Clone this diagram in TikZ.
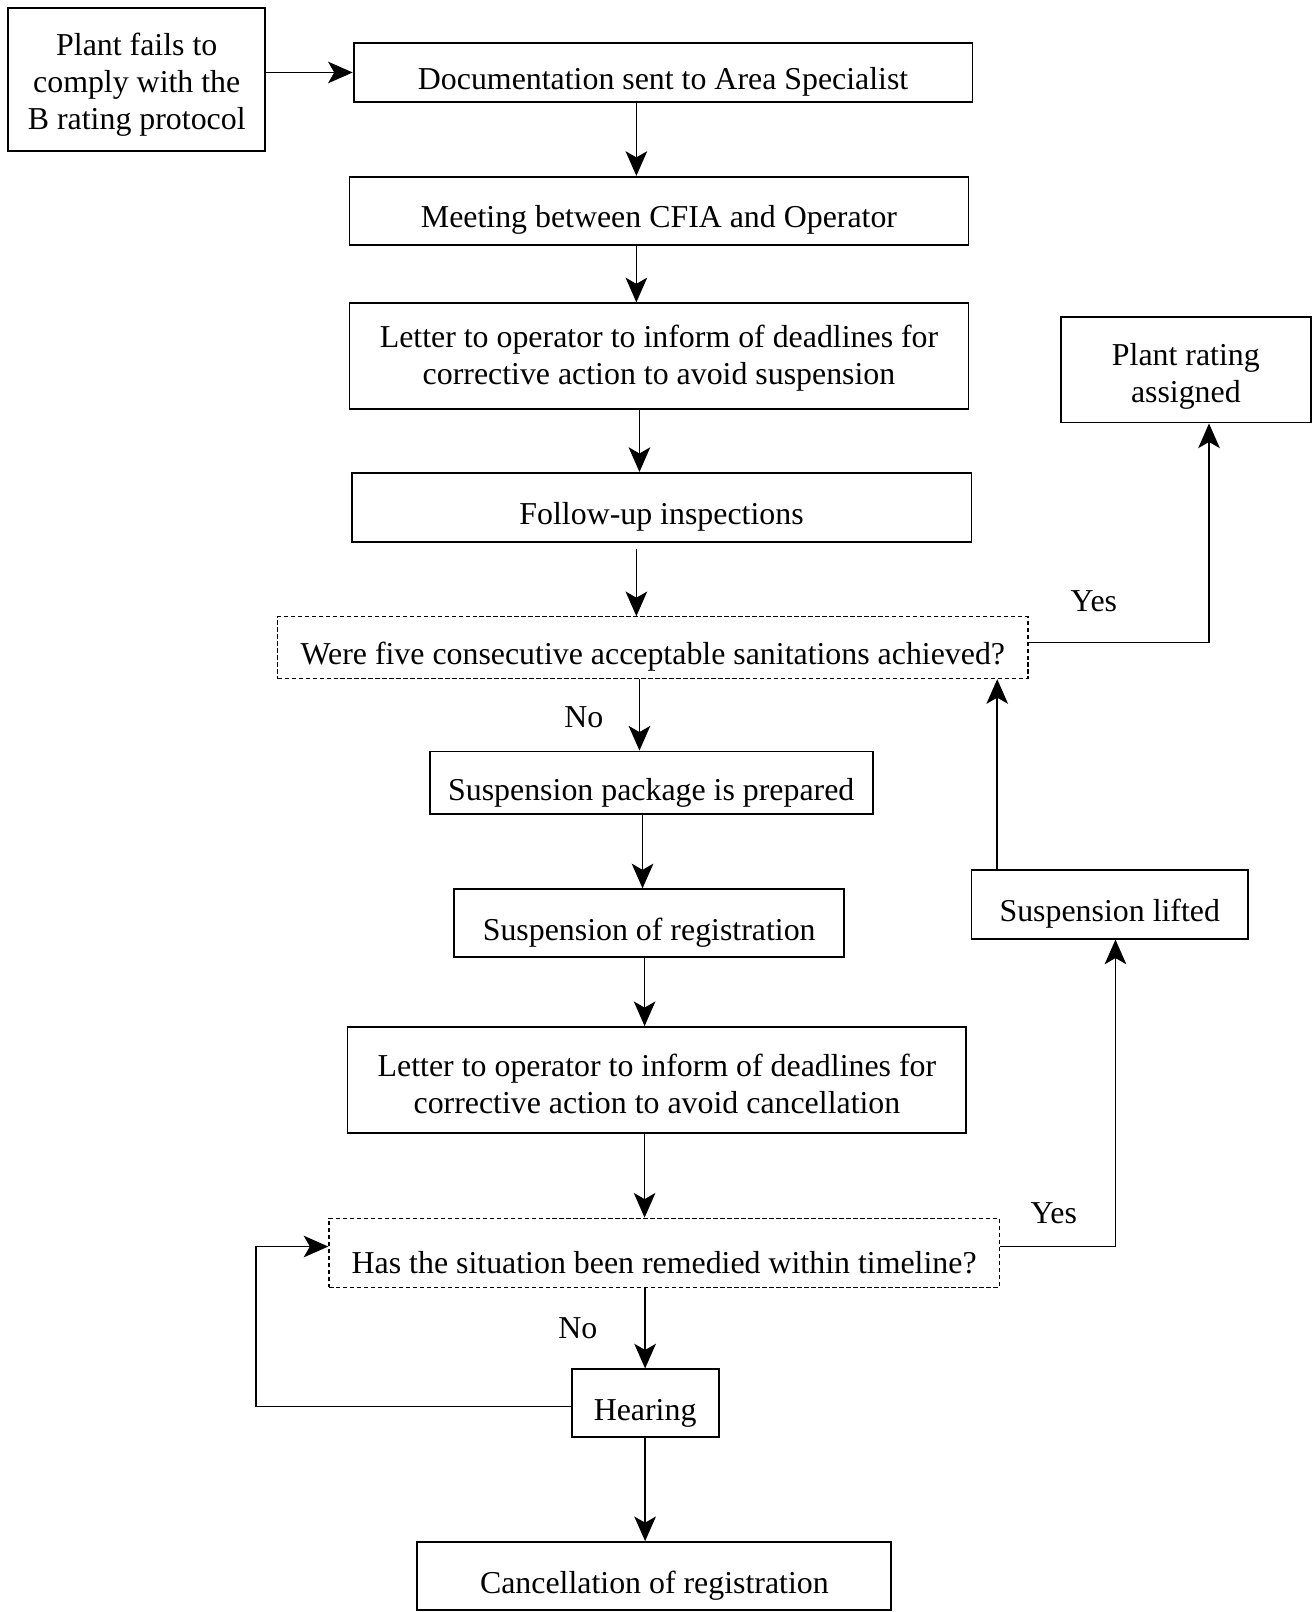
\documentclass[tikz,border=0pt]{standalone}
\usepackage{fontspec}
\setmainfont{Liberation Serif}
\usetikzlibrary{arrows.meta,calc}
\begin{document}
\begin{tikzpicture}[x=0.5pt,y=-0.5pt,
  box/.style={draw,line width=0.9pt,rectangle,align=center,inner sep=0pt,
    font=\fontsize{15.5}{18}\selectfont,
    execute at begin node={\rule{0pt}{20pt}}},
  mbox/.style={box,execute at begin node={}},
  qbox/.style={box,dash pattern=on 2.2pt off 1.2pt,line width=0.6pt},
  arr/.style={line width=0.8pt,-{Stealth[length=12pt,width=10.5pt,inset=3pt]}},
  lbl/.style={font=\fontsize{15.5}{18}\selectfont,inner sep=0pt}]
\useasboundingbox (0,0) rectangle (1276,1568);
\node[mbox,minimum width=125pt,minimum height=69.5pt] (b1) at (133,77.5) {\rule{0pt}{16pt}Plant fails to\\comply with the\\B rating protocol};
\node[box,minimum width=301pt,minimum height=28.5pt] (b2) at (645,70.5) {Documentation sent to Area Specialist};
\node[box,minimum width=301pt,minimum height=33pt] (b3) at (641,205) {Meeting between CFIA and Operator};
\node[mbox,minimum width=301pt,minimum height=51.5pt] (b4) at (641,346.5) {\rule{0pt}{13pt}Letter to operator to inform of deadlines for\\corrective action to avoid suspension};
\node[box,minimum width=301.5pt,minimum height=33.5pt] (b5) at (643.5,493.5) {Follow-up inspections};
\node[qbox,minimum width=365pt,minimum height=30pt] (q1) at (635,630) {Were five consecutive acceptable sanitations achieved?};
\node[mbox,minimum width=121.5pt,minimum height=51.5pt] (b7) at (1153.5,359.5) {\rule{0pt}{17pt}Plant rating\\assigned};
\node[box,minimum width=215.5pt,minimum height=30.5pt] (b8) at (633.5,761.5) {Suspension package is prepared};
\node[box,minimum width=189.5pt,minimum height=33pt] (b9) at (631.5,898) {Suspension of registration};
\node[mbox,minimum width=301pt,minimum height=51.5pt] (b10) at (639,1050.5) {\rule{0pt}{15pt}Letter to operator to inform of deadlines for\\corrective action to avoid cancellation};
\node[qbox,minimum width=326pt,minimum height=33.5pt] (q2) at (646,1218.5) {Has the situation been remedied within timeline?};
\node[box,minimum width=134.5pt,minimum height=33.5pt] (b12) at (1079.5,879.5) {Suspension lifted};
\node[box,minimum width=71.5pt,minimum height=33pt] (b13) at (627.5,1365) {Hearing};
\node[box,minimum width=230.5pt,minimum height=33pt] (b14) at (636.5,1533) {Cancellation of registration};
\node[lbl] (no1) at (568,698) {No};
\node[lbl] (yes1) at (1064,585) {Yes};
\node[lbl] (yes2) at (1025,1180) {Yes};
\node[lbl] (no2) at (562,1292) {No};
\draw[arr] (b2.west -| b1.east) -- (b2.west);
\draw[arr] ([xshift=-13pt]b2.south) -- ([xshift=-13pt]b2.south |- b3.north);
\draw[arr] ([xshift=-11pt]b3.south) -- ([xshift=-11pt]b3.south |- b4.north);
\draw[arr] ([xshift=-9.5pt]b4.south) -- ([xshift=-9.5pt]b4.south |- b5.north);
\draw[arr] ([xshift=-12.25pt,yshift=-3pt]b5.south) -- ([xshift=-12.25pt]b5.south |- q1.north);
\draw[arr] ([xshift=-6.5pt]q1.south) -- ([xshift=-6.5pt]q1.south |- b8.north);
\draw[arr] ([xshift=-4.25pt]b8.south) -- ([xshift=-4.25pt]b8.south |- b9.north);
\draw[arr] ([xshift=-2.25pt]b9.south) -- ([xshift=-2.25pt]b9.south |- b10.north);
\draw[arr] ([xshift=-6pt]b10.south) -- ([xshift=-6pt]b10.south |- q2.north);
\draw[arr] (q2.south -| b13.north) -- (b13.north);
\draw[arr] (b13.south) -- (b13.south |- b14.north);
\draw[arr] ([yshift=2.5pt]q1.east) -| ([xshift=11.25pt]b7.south);
\draw[arr] ([yshift=3pt]q2.east) -| ([xshift=2.75pt]b12.south);
\draw[arr] ([xshift=-54.75pt]b12.north) -- ([xshift=-54.75pt]b12.north |- q1.south);
\draw[arr] ([yshift=-1.5pt]b13.west) -- ++(-306,0) |- ([yshift=3pt]q2.west);
\end{tikzpicture}
\end{document}
